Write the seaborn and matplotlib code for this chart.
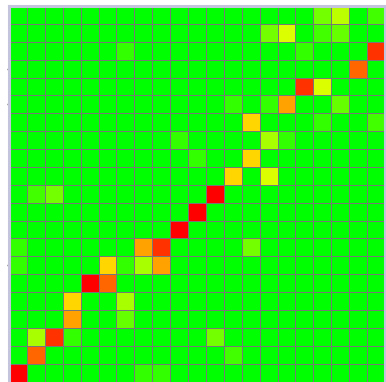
import numpy as np
import pandas as pd
import matplotlib
matplotlib.use("Agg")
import matplotlib.pyplot as plt
from matplotlib.colors import LinearSegmentedColormap
import seaborn as sns

# Matrix size and non-zero scores (row counted from the top, column from the left)
n_cells = 21
score_rows = [0, 0, 0,
              1, 1, 1, 1,
              2, 2, 2,
              3,
              4, 4,
              5, 5, 5, 5,
              6, 6, 6,
              7, 7, 7,
              8, 8,
              9, 9,
              10, 10, 10,
              11,
              12,
              13, 13, 13, 13,
              14, 14, 14, 14, 14,
              15, 15,
              16, 16,
              17, 17,
              18, 18, 18, 18,
              19, 19,
              20, 20, 20]
score_cols = [17, 18, 20,
              14, 15, 17, 18,
              6, 16, 20,
              19,
              16, 17,
              12, 14, 15, 18,
              13, 17, 20,
              9, 14, 15,
              10, 13,
              12, 14,
              1, 2, 11,
              10,
              9,
              0, 7, 8, 13,
              0, 5, 6, 7, 8,
              4, 5,
              3, 6,
              3, 6,
              1, 2, 3, 11,
              1, 12,
              0, 7, 8]
score_vals = [0.23, 0.37, 0.13,
              0.23, 0.43, 0.13, 0.20,
              0.10, 0.10, 0.90,
              0.80,
              0.90, 0.43,
              0.10, 0.10, 0.68, 0.20,
              0.58, 0.10, 0.13,
              0.10, 0.33, 0.10,
              0.10, 0.58,
              0.58, 0.43,
              0.13, 0.23, 1.00,
              1.00,
              1.00,
              0.10, 0.68, 0.90, 0.23,
              0.10, 0.58, 0.10, 0.33, 0.68,
              1.00, 0.80,
              0.58, 0.33,
              0.68, 0.20,
              0.33, 0.90, 0.10, 0.23,
              0.80, 0.13,
              1.00, 0.10, 0.10]

matrix = np.zeros((n_cells, n_cells))
for r, c, v in zip(score_rows, score_cols, score_vals):
    matrix[r, c] = v
df = pd.DataFrame(matrix)

cmap = LinearSegmentedColormap.from_list("gyr", ["#00ff00", "#ffff00", "#ff0000"])

W, H = 386, 382
fig = plt.figure(figsize=(W / 100, H / 100), dpi=100)
ax = fig.add_axes([9 / W, 1 - 381.5 / H, 376 / W, 375.5 / H])

sns.heatmap(df, ax=ax, cmap=cmap, vmin=0, vmax=1, cbar=False,
            linewidths=0.6, linecolor="#777777", square=False)

ax.set_xticks([])
ax.set_yticks([3.5, 5.5, 14.5])
ax.set_yticklabels([])
ax.tick_params(axis="y", length=1.5, width=1, color="#555555")
ax.set_xlabel("")
ax.set_ylabel("")

for side, sp in ax.spines.items():
    sp.set_visible(True)
    sp.set_color("#c4c4dc")
    sp.set_linewidth(2.2)
ax.spines["bottom"].set_visible(False)

fig.savefig("out.png", dpi=100)
